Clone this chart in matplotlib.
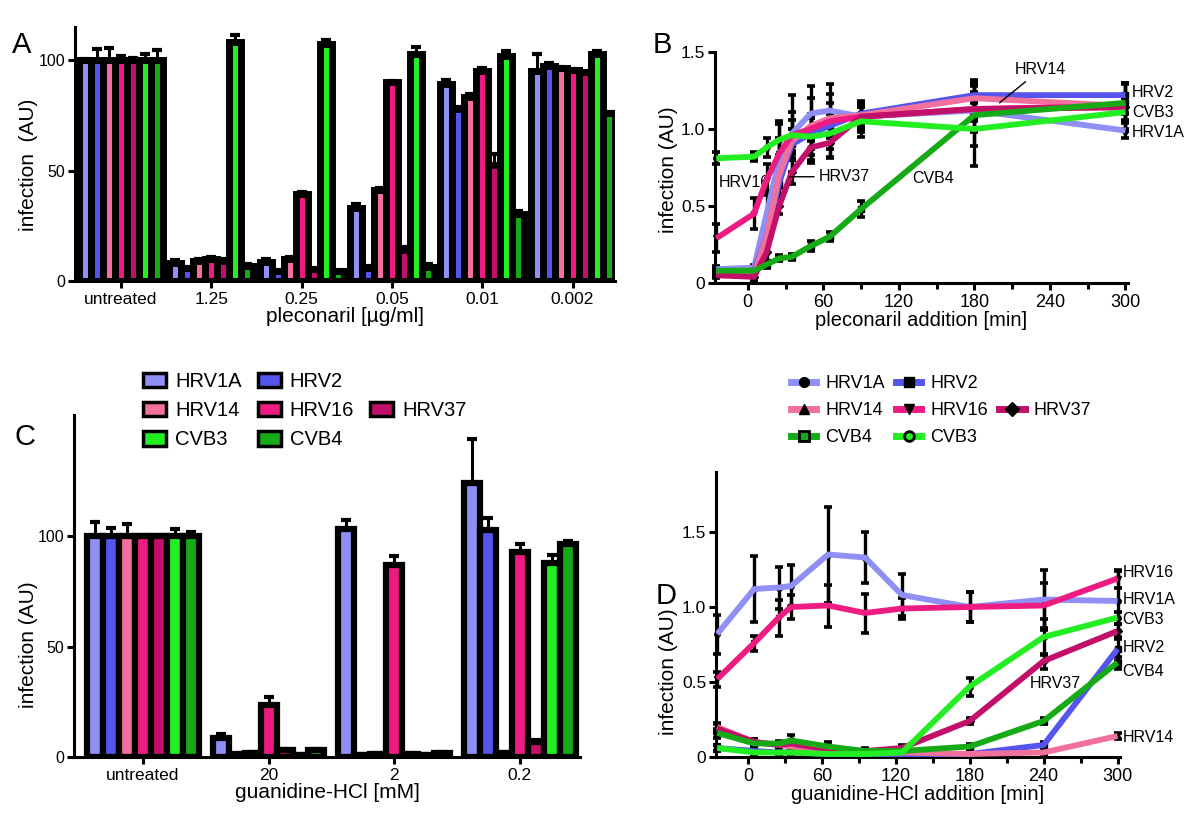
import matplotlib
matplotlib.use('Agg')
import matplotlib.pyplot as plt
import numpy as np
from matplotlib.patches import Patch
from matplotlib.lines import Line2D

plt.rcParams['font.family'] = ['Liberation Sans', 'DejaVu Sans']

viruses = ['HRV1A', 'HRV2', 'HRV14', 'HRV16', 'HRV37', 'CVB3', 'CVB4']
colors = {
    'HRV1A': '#8F8FF5', 'HRV2': '#5555EE', 'HRV14': '#F2709C',
    'HRV16': '#EE1C82', 'HRV37': '#C2106A', 'CVB3': '#22EE22', 'CVB4': '#16AA16',
}
markers = {'HRV1A': 'o', 'HRV2': 's', 'HRV14': '^', 'HRV16': 'v',
           'HRV37': 'D', 'CVB3': 'o', 'CVB4': 's'}

# ---------------- Panel A data ----------------
pleco_groups = ['untreated', '1.25', '0.25', '0.05', '0.01', '0.002']
pleco_HRV1A = [100, 8, 8.6, 33, 89, 95]
pleco_HRV2 = [100, 6, 4.5, 6, 78, 97.5]
pleco_HRV14 = [100, 9, 10, 41, 83.5, 96.5]
pleco_HRV16 = [100, 10, 39.5, 90, 95, 95.5]
pleco_HRV37 = [100, 9, 5.5, 14, 52.5, 94.5]
pleco_CVB3 = [100, 108, 107.5, 103, 102, 103]
pleco_CVB4 = [100, 7, 4.5, 6.5, 30.5, 76]
pleco_err_HRV1A = [0.5, 1.5, 1.5, 2, 2, 8]
pleco_err_HRV2 = [5, 0.5, 0.5, 1, 1, 1]
pleco_err_HRV14 = [5.5, 1, 1, 1, 1, 0.5]
pleco_err_HRV16 = [2, 1, 1, 0.5, 1.5, 0.5]
pleco_err_HRV37 = [1, 1, 0.5, 1.5, 5, 0.5]
pleco_err_CVB3 = [3, 3.5, 1.5, 3, 2, 1]
pleco_err_CVB4 = [4.5, 0.5, 0.5, 1, 1, 0.5]

# ---------------- Panel B data ----------------
pleco_time = [-25, 5, 15, 25, 35, 50, 65, 90, 180, 300]
tB_HRV1A = [0.09, 0.10, 0.45, 0.80, 0.97, 1.10, 1.12, 1.08, 1.12, 0.99]
tB_HRV2 = [0.07, 0.08, 0.30, 0.65, 0.90, 0.97, 1.02, 1.10, 1.22, 1.22]
tB_HRV14 = [0.06, 0.06, 0.30, 0.70, 0.92, 1.02, 1.07, 1.09, 1.20, 1.15]
tB_HRV16 = [0.29, 0.45, 0.67, 0.84, 0.96, 1.00, 1.05, 1.08, 1.13, 1.15]
tB_HRV37 = [0.05, 0.04, 0.20, 0.50, 0.72, 0.88, 0.91, 1.08, 1.13, 1.14]
tB_CVB3 = [0.81, 0.82, 0.88, 0.93, 0.96, 0.95, 0.97, 1.05, 1.00, 1.11]
tB_CVB4 = [0.08, 0.08, 0.12, 0.16, 0.17, 0.24, 0.30, 0.48, 1.09, 1.17]
eB_HRV1A = [0.02, 0.02, 0.15, 0.25, 0.25, 0.18, 0.17, 0.08, 0.05, 0.05]
eB_HRV2 = [0.02, 0.02, 0.05, 0.08, 0.10, 0.10, 0.08, 0.05, 0.10, 0.08]
eB_HRV14 = [0.02, 0.02, 0.05, 0.08, 0.08, 0.08, 0.10, 0.05, 0.10, 0.05]
eB_HRV16 = [0.09, 0.10, 0.10, 0.10, 0.15, 0.20, 0.18, 0.10, 0.15, 0.15]
eB_HRV37 = [0.02, 0.03, 0.06, 0.05, 0.08, 0.10, 0.10, 0.06, 0.08, 0.08]
eB_CVB3 = [0.04, 0.03, 0.06, 0.10, 0.10, 0.12, 0.15, 0.10, 0.24, 0.12]
eB_CVB4 = [0.02, 0.02, 0.02, 0.02, 0.02, 0.03, 0.03, 0.05, 0.20, 0.12]

# ---------------- Panel C data ----------------
guan_groups = ['untreated', '20', '2', '0.2']
guan_HRV1A = [100, 8.8, 103.3, 124]
guan_HRV2 = [100, 1.2, 1.0, 103]
guan_HRV14 = [100, 1.8, 1.5, 2.0]
guan_HRV16 = [100, 23.5, 87, 92.7]
guan_HRV37 = [100, 3.2, 1.5, 7.0]
guan_CVB3 = [100, 1.0, 1.0, 88]
guan_CVB4 = [100, 3.2, 2.0, 96.5]
guan_err_HRV1A = [6.5, 1.5, 4, 20]
guan_err_HRV2 = [4, 0.3, 0.3, 5.5]
guan_err_HRV14 = [5.5, 0.3, 0.3, 0.3]
guan_err_HRV16 = [0.5, 3.5, 4, 4]
guan_err_HRV37 = [0.8, 0.5, 0.3, 0.5]
guan_err_CVB3 = [3.5, 0.3, 0.3, 3.5]
guan_err_CVB4 = [2, 0.5, 0.3, 1.5]

# ---------------- Panel D data ----------------
guan_time = [-25, 5, 25, 35, 65, 95, 125, 180, 240, 300]
tD_HRV1A = [0.82, 1.12, 1.13, 1.14, 1.35, 1.33, 1.08, 1.00, 1.05, 1.04]
tD_HRV2 = [0.06, 0.04, 0.03, 0.03, 0.02, 0.02, 0.02, 0.02, 0.08, 0.72]
tD_HRV14 = [0.20, 0.10, 0.08, 0.07, 0.04, 0.03, 0.03, 0.02, 0.03, 0.14]
tD_HRV16 = [0.52, 0.76, 0.93, 1.00, 1.01, 0.96, 0.99, 1.00, 1.01, 1.19]
tD_HRV37 = [0.19, 0.10, 0.08, 0.09, 0.05, 0.04, 0.06, 0.24, 0.64, 0.84]
tD_CVB3 = [0.06, 0.03, 0.03, 0.03, 0.02, 0.02, 0.03, 0.47, 0.80, 0.93]
tD_CVB4 = [0.16, 0.09, 0.09, 0.11, 0.07, 0.04, 0.04, 0.07, 0.24, 0.63]
eD_HRV1A = [0.13, 0.22, 0.14, 0.14, 0.32, 0.17, 0.14, 0.10, 0.20, 0.20]
eD_HRV2 = [0.02, 0.02, 0.02, 0.02, 0.02, 0.02, 0.02, 0.02, 0.02, 0.08]
eD_HRV14 = [0.03, 0.02, 0.02, 0.02, 0.02, 0.02, 0.02, 0.01, 0.01, 0.02]
eD_HRV16 = [0.05, 0.05, 0.12, 0.08, 0.14, 0.13, 0.07, 0.10, 0.15, 0.06]
eD_HRV37 = [0.03, 0.02, 0.02, 0.02, 0.02, 0.01, 0.02, 0.02, 0.05, 0.05]
eD_CVB3 = [0.02, 0.01, 0.01, 0.01, 0.01, 0.01, 0.01, 0.06, 0.12, 0.04]
eD_CVB4 = [0.03, 0.03, 0.02, 0.04, 0.03, 0.02, 0.02, 0.02, 0.02, 0.04]

pleco_vals = dict(zip(viruses, [pleco_HRV1A, pleco_HRV2, pleco_HRV14, pleco_HRV16, pleco_HRV37, pleco_CVB3, pleco_CVB4]))
pleco_errs = dict(zip(viruses, [pleco_err_HRV1A, pleco_err_HRV2, pleco_err_HRV14, pleco_err_HRV16, pleco_err_HRV37, pleco_err_CVB3, pleco_err_CVB4]))
guan_vals = dict(zip(viruses, [guan_HRV1A, guan_HRV2, guan_HRV14, guan_HRV16, guan_HRV37, guan_CVB3, guan_CVB4]))
guan_errs = dict(zip(viruses, [guan_err_HRV1A, guan_err_HRV2, guan_err_HRV14, guan_err_HRV16, guan_err_HRV37, guan_err_CVB3, guan_err_CVB4]))
B_vals = dict(zip(viruses, [tB_HRV1A, tB_HRV2, tB_HRV14, tB_HRV16, tB_HRV37, tB_CVB3, tB_CVB4]))
B_errs = dict(zip(viruses, [eB_HRV1A, eB_HRV2, eB_HRV14, eB_HRV16, eB_HRV37, eB_CVB3, eB_CVB4]))
D_vals = dict(zip(viruses, [tD_HRV1A, tD_HRV2, tD_HRV14, tD_HRV16, tD_HRV37, tD_CVB3, tD_CVB4]))
D_errs = dict(zip(viruses, [eD_HRV1A, eD_HRV2, eD_HRV14, eD_HRV16, eD_HRV37, eD_CVB3, eD_CVB4]))

W, H = 1200, 818
fig = plt.figure(figsize=(12, 8.18), dpi=100)
LABEL_FS = 15
AXES_BOX = {}


def fax(l, t, r, b):
    ax = fig.add_axes([l / W, 1 - b / H, (r - l) / W, (b - t) / H])
    AXES_BOX[ax] = (l, t, r, b)
    return ax


def ylabel_at(ax, text, xpx, ypx):
    l, t, r, b = AXES_BOX[ax]
    ax.set_ylabel(text, fontsize=LABEL_FS)
    ax.yaxis.label.set_va('center')
    ax.yaxis.set_label_coords((xpx - l) / (r - l), (b - ypx) / (b - t))


def style(ax, xfs, yfs):
    for s in ['top', 'right']:
        ax.spines[s].set_visible(False)
    for s in ['left', 'bottom']:
        ax.spines[s].set_linewidth(2.2)
    ax.tick_params(axis='both', which='both', direction='out', width=2.2, colors='black')
    ax.tick_params(axis='x', labelsize=xfs, pad=3)
    ax.tick_params(axis='y', labelsize=yfs, pad=2)
    ax.tick_params(which='major', length=5)
    ax.tick_params(which='minor', length=4)


def bar_panel(ax, groups, vals, errs, width, lw):
    x = np.arange(len(groups))
    for i, v in enumerate(viruses):
        xs = x + (i - 3) * width
        ax.errorbar(xs, vals[v], yerr=[np.zeros(len(groups)), errs[v]], fmt='none',
                    ecolor='black', elinewidth=2.2, capsize=3.5, capthick=3, zorder=1)
        ax.bar(xs, vals[v], width, color=colors[v], edgecolor='black',
               linewidth=lw, zorder=2)
    ax.set_xticks(x)
    ax.set_xticklabels(groups)
    ax.set_yticks([0, 50, 100])
    style(ax, 12.5, 11.5)


def line_panel(ax, t, vals, errs):
    order = ['HRV1A', 'HRV2', 'HRV14', 'HRV16', 'HRV37', 'CVB4', 'CVB3']
    for v in order:
        ax.errorbar(t, vals[v], yerr=errs[v], fmt=markers[v], color='black', ms=4,
                    elinewidth=2.4, capsize=3, capthick=2.6, zorder=2, clip_on=False)
    for v in order:
        ax.plot(t, vals[v], color=colors[v], lw=4.2, zorder=3,
                solid_joinstyle='round', solid_capstyle='butt')
    ax.set_xlim(-26, 302)
    ax.set_xticks([0, 60, 120, 180, 240, 300])
    ax.set_xticks([30, 90, 150, 210, 270], minor=True)
    ax.set_yticks([0, 0.5, 1.0, 1.5])
    ax.set_yticklabels(['0', '0.5', '1.0', '1.5'])
    style(ax, 13, 12.5)


# ---------------- A ----------------
axA = fax(75, 27, 615, 281)
bar_panel(axA, pleco_groups, pleco_vals, pleco_errs, 0.133, 5)
axA.set_xlim(-0.51, 5.47)
axA.set_ylim(0, 115)
axA.set_xlabel('pleconaril [µg/ml]', fontsize=LABEL_FS, labelpad=0)
ylabel_at(axA, 'infection  (AU)', 28, 165)

# ---------------- B ----------------
axB = fax(715, 52, 1128, 283)
line_panel(axB, pleco_time, B_vals, B_errs)
axB.set_ylim(0, 1.5)
axB.set_xlabel('pleconaril addition [min]', fontsize=14.5, labelpad=0)
ylabel_at(axB, 'infection (AU)', 668, 170)
fs_ann = 11.5
axB.annotate('HRV14', xy=(200, 1.17), xytext=(212, 1.385), fontsize=fs_ann,
             va='center', ha='left',
             arrowprops=dict(arrowstyle='-', color='black', lw=1, shrinkA=2, shrinkB=0))
axB.text(305, 1.235, 'HRV2', fontsize=fs_ann, va='center', ha='left', clip_on=False)
axB.text(305, 1.105, 'CVB3', fontsize=fs_ann, va='center', ha='left', clip_on=False)
axB.text(305, 0.975, 'HRV1A', fontsize=fs_ann, va='center', ha='left', clip_on=False)
axB.text(-23, 0.65, 'HRV16', fontsize=fs_ann, va='center', ha='left', zorder=2.5)
axB.annotate('HRV37', xy=(33, 0.69), xytext=(56, 0.69), fontsize=fs_ann,
             va='center', ha='left', zorder=5,
             arrowprops=dict(arrowstyle='-', color='black', lw=1, shrinkA=1, shrinkB=0))
axB.text(131, 0.68, 'CVB4', fontsize=fs_ann, va='center', ha='left', zorder=5)

# ---------------- C ----------------
axC = fax(74, 415, 580, 757)
bar_panel(axC, guan_groups, guan_vals, guan_errs, 0.127, 4.5)
axC.set_xlim(-0.55, 3.48)
axC.set_ylim(0, 155)
axC.set_xlabel('guanidine-HCl [mM]', fontsize=LABEL_FS, labelpad=0)
ylabel_at(axC, 'infection (AU)', 28, 645)

# ---------------- D ----------------
axD = fax(716, 472, 1120, 757)
line_panel(axD, guan_time, D_vals, D_errs)
axD.set_ylim(0, 1.9)
axD.set_xlabel('guanidine-HCl addition [min]', fontsize=14.5, labelpad=0)
ylabel_at(axD, 'infection (AU)', 668, 672)
for lab, y in [('HRV16', 1.23), ('HRV1A', 1.05), ('CVB3', 0.92), ('HRV2', 0.73),
               ('CVB4', 0.57), ('HRV14', 0.13)]:
    axD.text(304, y, lab, fontsize=fs_ann, va='center', ha='left', clip_on=False)
axD.text(229, 0.49, 'HRV37', fontsize=fs_ann, va='center', ha='left')

# ---------------- Legends ----------------
blank = Patch(facecolor='none', edgecolor='none')
bar_h = {v: Patch(facecolor=colors[v], edgecolor='black', linewidth=2.5) for v in viruses}
cols_C = [('HRV1A', 'HRV14', 'CVB3'), ('HRV2', 'HRV16', 'CVB4'), (None, 'HRV37', None)]
hC, lC = [], []
for col in cols_C:
    for v in col:
        hC.append(bar_h[v] if v else blank)
        lC.append(v if v else '')
fig.legend(hC, lC, ncol=3, loc='upper left', bbox_to_anchor=(133 / W, 1 - 362 / H),
           frameon=False, fontsize=14.5, handlelength=1.15, handleheight=0.75,
           handletextpad=0.45, columnspacing=0.78, labelspacing=0.5, borderpad=0)

line_h = {}
for v in viruses:
    mfc = colors[v] if v in ('CVB3', 'CVB4') else 'black'
    line_h[v] = Line2D([], [], color=colors[v], lw=5, marker=markers[v], ms=7,
                       mfc=mfc, mec='black', mew=2 if v in ('CVB3', 'CVB4') else 1)
cols_D = [('HRV1A', 'HRV14', 'CVB4'), ('HRV2', 'HRV16', 'CVB3'), (None, 'HRV37', None)]
hD, lD = [], []
for col in cols_D:
    for v in col:
        hD.append(line_h[v] if v else blank)
        lD.append(v if v else '')
fig.legend(hD, lD, ncol=3, loc='upper left', bbox_to_anchor=(782 / W, 1 - 366 / H),
           frameon=False, fontsize=13, handlelength=1.4,
           handletextpad=0.5, columnspacing=0.62, labelspacing=0.55, borderpad=0)

# ---------------- Panel letters ----------------
for lab, x, y in [('A', 12, 45), ('B', 653, 45), ('C', 15, 437), ('D', 656, 596)]:
    fig.text(x / W, 1 - y / H, lab, fontsize=21, va='center', ha='left')

fig.savefig('out.png', dpi=100)
